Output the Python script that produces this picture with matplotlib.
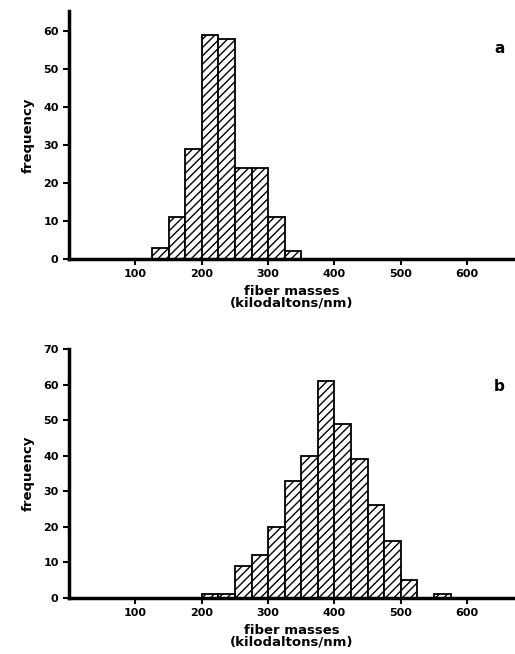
import numpy as np
import matplotlib
matplotlib.use("Agg")
import matplotlib.pyplot as plt

# bin edges are 25 kilodaltons/nm wide
bins_a = [125, 150, 175, 200, 225, 250, 275, 300, 325]
counts_a = [3, 11, 29, 59, 58, 24, 24, 11, 2]

bins_b = [200, 225, 250, 275, 300, 325, 350, 375, 400, 425, 450, 475, 500, 525, 550]
counts_b = [1, 1, 9, 12, 20, 33, 40, 61, 49, 39, 26, 16, 5, 0, 1]

xticks = [100, 200, 300, 400, 500, 600]

plt.rcParams['font.family'] = 'DejaVu Sans'
plt.rcParams['font.weight'] = 'bold'
plt.rcParams['hatch.linewidth'] = 1.0

fig = plt.figure(figsize=(5.15, 6.54), dpi=100)
ax_a = fig.add_axes([0.134, 0.604, 0.866, 0.379])
ax_b = fig.add_axes([0.134, 0.086, 0.866, 0.380])


def style(ax, ymax, yticks, letter):
    ax.set_xlim(0, 672)
    ax.set_ylim(0, ymax)
    ax.set_xticks(xticks)
    ax.set_yticks(yticks)
    for s in ['top', 'right']:
        ax.spines[s].set_visible(False)
    for s in ['left', 'bottom']:
        ax.spines[s].set_linewidth(2.5)
    ax.tick_params(axis='both', labelsize=8, width=1.5, length=4)
    ax.set_xlabel('fiber masses\n(kilodaltons/nm)', fontsize=9.5, fontweight='bold',
                  linespacing=0.85, labelpad=4)
    ax.set_ylabel('frequency', fontsize=9.5, fontweight='bold', labelpad=6)
    ax.text(0.965, 0.85, letter, transform=ax.transAxes, fontsize=11,
            fontweight='bold', ha='center', va='center')


ax_a.bar(bins_a, counts_a, width=25, align='edge', color='white',
         edgecolor='black', linewidth=1.3, hatch='////')
style(ax_a, 65.3, [0, 10, 20, 30, 40, 50, 60], 'a')

ax_b.bar(bins_b, counts_b, width=25, align='edge', color='white',
         edgecolor='black', linewidth=1.3, hatch='////')
style(ax_b, 70, [0, 10, 20, 30, 40, 50, 60, 70], 'b')

fig.savefig('out.png', dpi=100)
